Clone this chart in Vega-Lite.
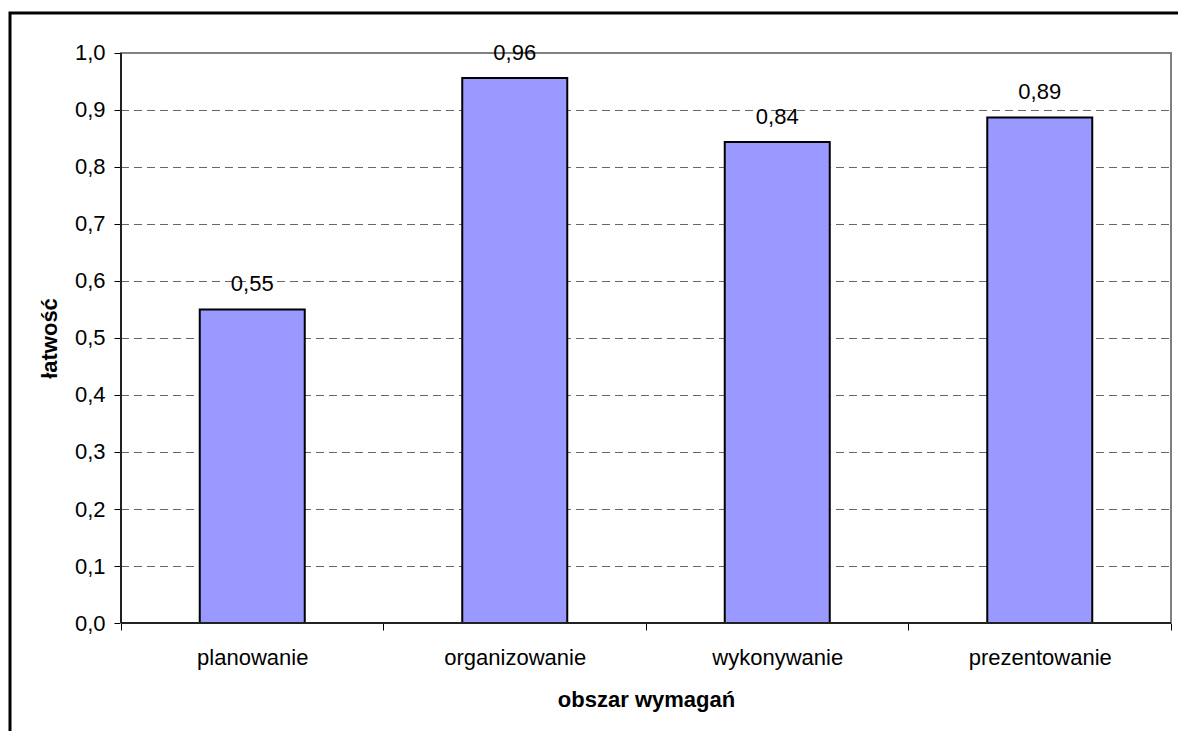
{
  "$schema": "https://vega.github.io/schema/vega-lite/v6.json",
  "width": 1180,
  "height": 733,
  "autosize": {"type": "none"},
  "padding": {"left": 10, "top": 13, "right": -12, "bottom": -15},
  "background": "white",
  "config": {
    "font": "Liberation Sans",
    "locale": {"number": {"decimal": ",", "thousands": " ", "grouping": [3], "currency": ["", " zł"]}},
    "view": {"stroke": "black", "strokeWidth": 3},
    "axisY": {
      "offset": -111,
      "format": ".1f", "domain": false, "grid": false,
      "tickSize": 7, "tickColor": "black", "tickWidth": 1,
      "labelFontSize": 22, "labelColor": "black", "labelPadding": 9, "labelFlush": false, "labelOverlap": false,
      "titleFontSize": 22, "titleFontWeight": "bold", "titleColor": "black",
      "titleX": -64.5, "titleY": 325, "titleAngle": -90, "titleAlign": "center", "titleBaseline": "alphabetic"
    }
  },
  "datasets": {
    "bars": [
      {"obszar": "planowanie", "latwosc": 0.55},
      {"obszar": "organizowanie", "latwosc": 0.956},
      {"obszar": "wykonywanie", "latwosc": 0.844},
      {"obszar": "prezentowanie", "latwosc": 0.887}
    ],
    "grid": [
      {"v": 0.1}, {"v": 0.2}, {"v": 0.3}, {"v": 0.4}, {"v": 0.5},
      {"v": 0.6}, {"v": 0.7}, {"v": 0.8}, {"v": 0.9}
    ],
    "frame": [{"id": 1}]
  },
  "layer": [
    {
      "data": {"name": "grid"},
      "mark": {"type": "rule", "stroke": "#666666", "strokeWidth": 1, "strokeDash": [8, 5], "yOffset": 0.5},
      "encoding": {
        "y": {"field": "v", "type": "quantitative", "title": "łatwość", "scale": {"domain": [-0.2157895, 1.0701754], "nice": false, "zero": false}, "axis": {"values": [0, 0.1, 0.2, 0.3, 0.4, 0.5, 0.6, 0.7, 0.8, 0.9, 1.0]}},
        "x": {"datum": 0, "type": "quantitative", "scale": {"domain": [-0.422857, 4.072381], "nice": false, "zero": false}, "axis": null},
        "x2": {"datum": 4}
      }
    },
    {
      "data": {"name": "frame"},
      "mark": {"type": "rect", "fill": "transparent", "stroke": "#808080", "strokeWidth": 2},
      "encoding": {
        "y": {"datum": 0, "type": "quantitative", "title": "łatwość", "scale": {"domain": [-0.2157895, 1.0701754], "nice": false, "zero": false}, "axis": {"values": [0, 0.1, 0.2, 0.3, 0.4, 0.5, 0.6, 0.7, 0.8, 0.9, 1.0]}},
        "y2": {"datum": 1},
        "x": {"datum": 0, "type": "quantitative", "scale": {"domain": [-0.422857, 4.072381], "nice": false, "zero": false}, "axis": null},
        "x2": {"datum": 4}
      }
    },
    {
      "data": {"name": "bars"},
      "mark": {"type": "bar", "width": {"band": 0.4}, "fill": "#9999FF", "stroke": "black", "strokeWidth": 2},
      "encoding": {
        "x": {
          "field": "obszar", "type": "nominal", "sort": null,
          "scale": {"type": "band", "paddingInner": 0, "paddingOuter": 0.247619, "align": 0.853846, "round": false},
          "axis": {
            "title": "obszar wymagań", "offset": -123, "domain": false, "grid": false,
            "tickBand": "extent", "tickSize": 7, "tickColor": "black", "tickWidth": 1,
            "labelFontSize": 22, "labelColor": "black", "labelPadding": 17, "labelAngle": 0, "labelOverlap": false,
            "titleFontSize": 22, "titleFontWeight": "bold", "titleColor": "black",
            "titleX": 636, "titleY": 83, "titleBaseline": "alphabetic", "titleAlign": "center"
          }
        },
        "y": {"field": "latwosc", "type": "quantitative", "title": "łatwość", "scale": {"domain": [-0.2157895, 1.0701754], "nice": false, "zero": false}, "axis": {"values": [0, 0.1, 0.2, 0.3, 0.4, 0.5, 0.6, 0.7, 0.8, 0.9, 1.0]}},
        "y2": {"datum": 0}
      }
    },
    {
      "data": {"name": "frame"},
      "mark": {"type": "rule", "stroke": "black", "strokeWidth": 1.5},
      "encoding": {
        "y": {"datum": 0, "type": "quantitative", "title": "łatwość", "scale": {"domain": [-0.2157895, 1.0701754], "nice": false, "zero": false}, "axis": {"values": [0, 0.1, 0.2, 0.3, 0.4, 0.5, 0.6, 0.7, 0.8, 0.9, 1.0]}},
        "y2": {"datum": 1},
        "x": {"datum": 0, "type": "quantitative", "scale": {"domain": [-0.422857, 4.072381], "nice": false, "zero": false}, "axis": null}
      }
    },
    {
      "data": {"name": "frame"},
      "mark": {"type": "rule", "stroke": "#222222", "strokeWidth": 2},
      "encoding": {
        "y": {"datum": 0, "type": "quantitative", "title": "łatwość", "scale": {"domain": [-0.2157895, 1.0701754], "nice": false, "zero": false}, "axis": {"values": [0, 0.1, 0.2, 0.3, 0.4, 0.5, 0.6, 0.7, 0.8, 0.9, 1.0]}},
        "x": {"datum": 0, "type": "quantitative", "scale": {"domain": [-0.422857, 4.072381], "nice": false, "zero": false}, "axis": null},
        "x2": {"datum": 4}
      }
    },
    {
      "data": {"name": "bars"},
      "mark": {"type": "text", "dy": -18, "fontSize": 22, "baseline": "alphabetic", "align": "center", "color": "black"},
      "encoding": {
        "x": {
          "field": "obszar", "type": "nominal", "sort": null,
          "scale": {"type": "band", "paddingInner": 0, "paddingOuter": 0.247619, "align": 0.853846, "round": false},
          "axis": null
        },
        "y": {"field": "latwosc", "type": "quantitative", "title": "łatwość", "scale": {"domain": [-0.2157895, 1.0701754], "nice": false, "zero": false}, "axis": {"values": [0, 0.1, 0.2, 0.3, 0.4, 0.5, 0.6, 0.7, 0.8, 0.9, 1.0]}},
        "text": {"field": "latwosc", "type": "quantitative", "format": ".2f"}
      }
    }
  ],
  "resolve": {"scale": {"x": "independent"}}
}
